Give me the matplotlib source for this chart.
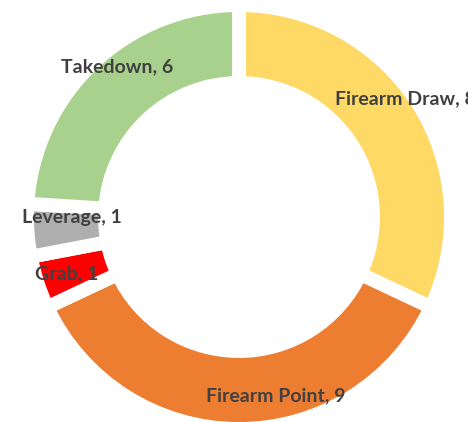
import matplotlib.pyplot as plt

# slice data, clockwise from 12 o'clock
labels = ["Firearm Draw", "Firearm Point", "Grab", "Leverage", "Takedown"]
counts = [8, 9, 1, 1, 6]
colors = ["#FFD966", "#ED7D31", "#FF0000", "#AFAFAF", "#A9D18E"]

# label centres in pixel coords (x, y from top) as placed in the original
label_pos = [(405, 99), (276, 396), (67, 274), (72, 218), (117, 67)]

W, H = 468, 422


def main():
    fig = plt.figure(figsize=(W / 100, H / 100), dpi=100)
    ax = fig.add_axes([0, 0, 1, 1])

    # donut, white edges give the gaps between slices
    ax.pie(counts, colors=colors, startangle=90, counterclock=False,
           center=(239, H - 217), radius=212,
           wedgeprops=dict(width=78, edgecolor="white", linewidth=10))

    for name, n, (x, y) in zip(labels, counts, label_pos):
        ax.text(x, H - y, f"{name}, {n}", ha="center", va="center",
                fontsize=14, fontweight="bold", color="#404040",
                family=["Lato", "DejaVu Sans"])

    ax.set_xlim(0, W)
    ax.set_ylim(0, H)
    ax.set_aspect("equal")
    ax.axis("off")

    fig.savefig("out.png", dpi=100)


if __name__ == "__main__":
    main()
